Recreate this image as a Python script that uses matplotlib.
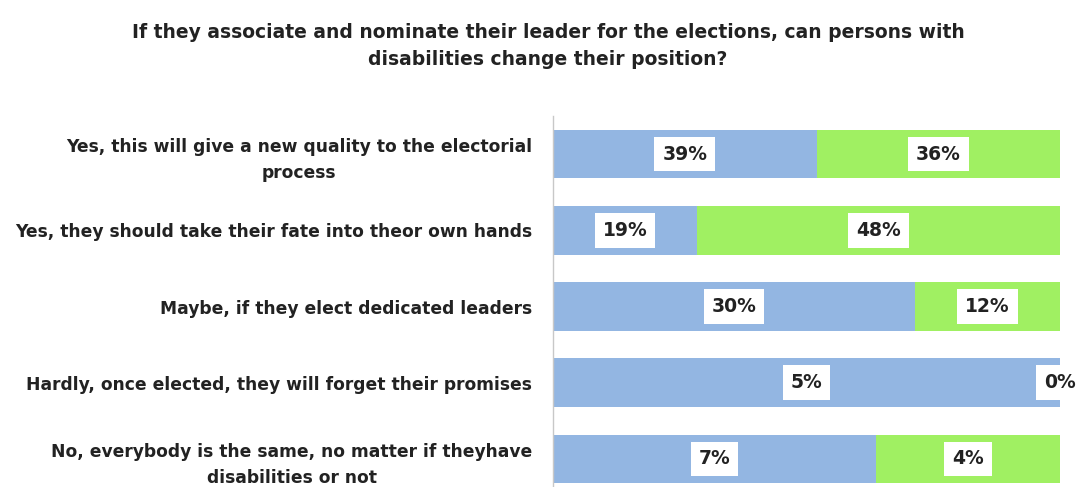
import numpy as np
import matplotlib
matplotlib.use("Agg")
import matplotlib.pyplot as plt

plt.rcParams['font.family'] = ['DejaVu Sans']

title = ("If they associate and nominate their leader for the elections, can persons with\n"
         "disabilities change their position?")
categories = [
    "Yes, this will give a new quality to the electorial\nprocess",
    "Yes, they should take their fate into theor own hands",
    "Maybe, if they elect dedicated leaders",
    "Hardly, once elected, they will forget their promises",
    "No, everybody is the same, no matter if theyhave\ndisabilities or not",
]
first = np.array([39, 19, 30, 5, 7])
second = np.array([36, 48, 12, 0, 4])

BLUE = "#93B6E2"
GREEN = "#A0F062"
TXT = "#222222"

total = first + second
p1 = first / total
p2 = second / total
y = np.arange(len(categories))

fig = plt.figure(figsize=(10.8, 4.87), dpi=100)
ax = fig.add_axes([553 / 1080, -10 / 487, 507 / 1080, 381 / 487])

ax.barh(y, p1, height=0.64, color=BLUE)
ax.barh(y, p2, left=p1, height=0.64, color=GREEN)

box = dict(boxstyle="square,pad=0.42", fc="white", ec="none")
for i in range(len(y)):
    ax.text(p1[i] / 2, y[i], f"{first[i]}%", ha="center", va="center",
            fontsize=13.5, fontweight="bold", color=TXT, bbox=box)
    ax.text(p1[i] + p2[i] / 2, y[i], f"{second[i]}%", ha="center", va="center",
            fontsize=13.5, fontweight="bold", color=TXT, bbox=box, clip_on=False)

ax.set_xlim(0, 1)
ax.set_ylim(4.5, -0.5)
ax.set_xticks([])
ax.set_yticks(y)
ax.set_yticklabels(categories, fontsize=12.3, fontweight="bold", color=TXT,
                   multialignment="center", linespacing=1.6)
ax.tick_params(axis="y", length=0, pad=15)
for s in ["top", "right", "bottom"]:
    ax.spines[s].set_visible(False)
ax.spines["left"].set_color("#C8C8C8")
ax.spines["left"].set_linewidth(1)

fig.text(548 / 1080, 1 - 46 / 487, title, ha="center", va="center",
         fontsize=13.5, fontweight="bold", color=TXT, linespacing=1.5)

fig.savefig("out.png", dpi=100)
